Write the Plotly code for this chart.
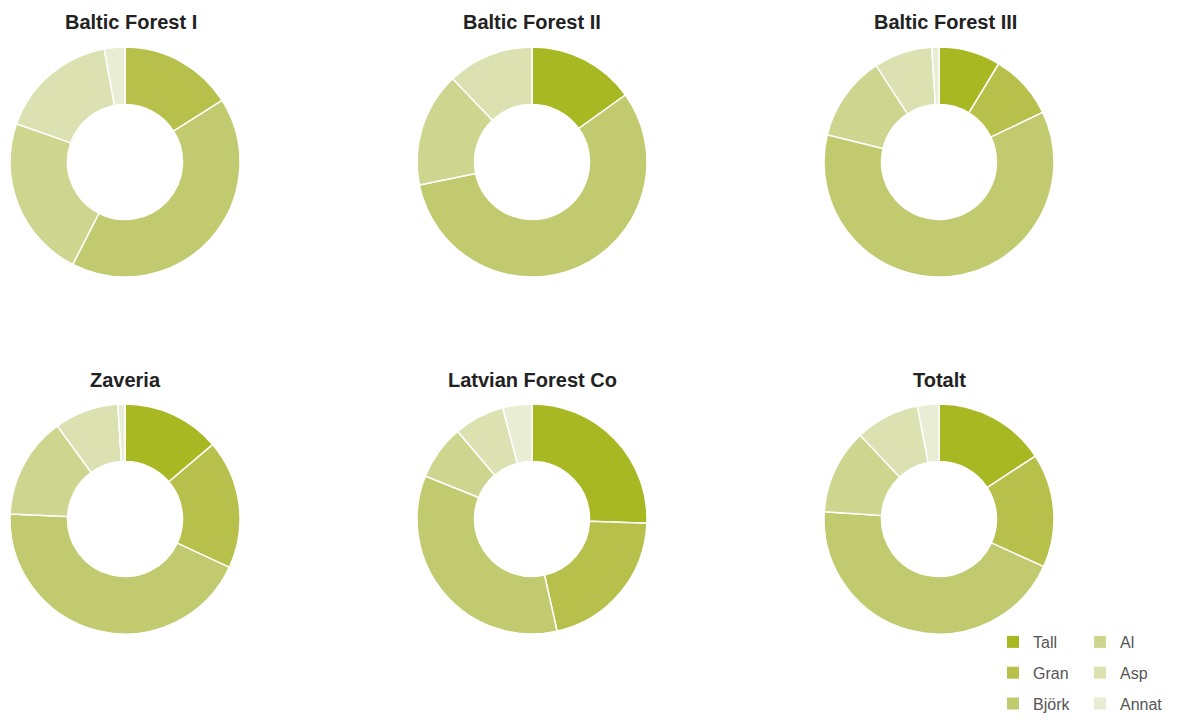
import plotly.graph_objects as go

# Species share (%) per company, read from the donuts (clockwise from 12 o'clock)
species = ["Tall", "Gran", "Björk", "Al", "Asp", "Annat"]
colors = ["#a8b823", "#b6c04a", "#c1ca6e", "#cdd58f", "#dbe1b0", "#e8edd4"]

titles = ["Baltic Forest I", "Baltic Forest II", "Baltic Forest III",
          "Zaveria", "Latvian Forest Co", "Totalt"]

baltic_forest_1 = [0, 16.0, 41.5, 22.9, 16.7, 2.9]
baltic_forest_2 = [15.1, 0, 56.7, 16.1, 12.1, 0]
baltic_forest_3 = [8.7, 9.2, 60.9, 12.0, 8.2, 1.0]
zaveria = [13.8, 18.1, 43.8, 14.3, 9.0, 1.0]
latvian_forest_co = [25.6, 20.9, 34.6, 7.7, 7.1, 4.1]
totalt = [15.8, 16.0, 44.2, 12.0, 9.0, 3.0]

# page body has an 8px margin, so the figure is a bit smaller than the window
OFF = 8
W, H = 1178 - 2 * OFF, 722 - 2 * OFF


def px(x):
    return min(1.0, max(0.0, (x - OFF) / W))


def py(y):
    return 1 - (y - OFF) / H


def main():
    series = [baltic_forest_1, baltic_forest_2, baltic_forest_3,
              zaveria, latvian_forest_co, totalt]

    centers_x = [125, 532, 939]
    centers_y = [162, 519]
    title_x = [131, 532, 945, 125, 532, 939]
    title_y = [22, 380]
    r = 115

    fig = go.Figure()

    for i, (title, vals) in enumerate(zip(titles, series)):
        cx = centers_x[i % 3]
        cy = centers_y[i // 3]
        fig.add_trace(go.Pie(
            labels=species, values=vals,
            hole=0.5, sort=False, direction="clockwise", rotation=0,
            marker=dict(colors=colors, line=dict(color="white", width=1.5)),
            textinfo="none", showlegend=False,
            domain=dict(x=[px(cx - r), px(cx + r)],
                        y=[py(cy + r), py(cy - r)]),
        ))
        fig.add_annotation(
            text=f"<b>{title}</b>", x=px(title_x[i]), y=py(title_y[i // 3]),
            xref="paper", yref="paper", showarrow=False,
            xanchor="center", yanchor="middle",
            font=dict(size=20, color="#222222", family="Liberation Sans"),
        )

    # legend: two columns of square swatches
    for j, (name, col) in enumerate(zip(species, colors)):
        fig.add_trace(go.Scatter(
            x=[None], y=[None], mode="markers", name=name,
            marker=dict(symbol="square", size=12, color=col),
            legend="legend" if j < 3 else "legend2",
            legendgroup=name,
        ))

    leg_common = dict(
        font=dict(size=16, color="#555555", family="Liberation Sans"),
        bgcolor="rgba(0,0,0,0)", tracegroupgap=7,
        xanchor="left", yanchor="top", yref="paper", xref="paper",
    )

    fig.update_layout(
        width=W, height=H,
        margin=dict(l=0, r=0, t=0, b=0, autoexpand=False),
        paper_bgcolor="white", plot_bgcolor="white",
        xaxis=dict(visible=False), yaxis=dict(visible=False),
        legend=dict(x=px(993), y=py(625), **leg_common),
        legend2=dict(x=px(1080), y=py(625), **leg_common),
    )

    fig.write_html("out.html")


if __name__ == "__main__":
    main()
